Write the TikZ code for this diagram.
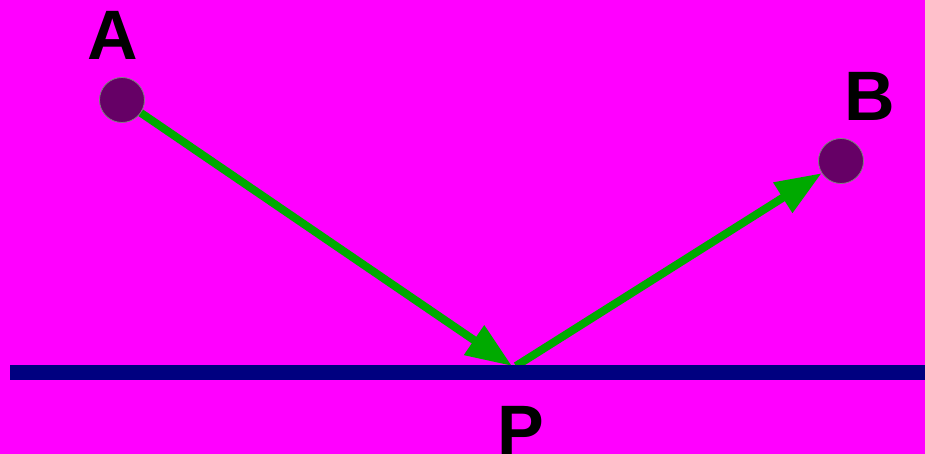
\documentclass[tikz,border=0pt]{standalone}
\usepackage{fontspec}
\setmainfont{Liberation Sans}
\usetikzlibrary{arrows.meta}
\definecolor{bg}{HTML}{FF00FF}
\definecolor{ray}{HTML}{00AA00}
\definecolor{mirror}{HTML}{000080}
\definecolor{dot}{HTML}{660066}
\tikzset{
  pt/.style={circle, fill=dot, draw=gray, line width=0.8pt, minimum size=45pt, inner sep=0pt},
  lbl/.style={font=\fontsize{70}{70}\selectfont\bfseries, text=black, inner sep=0pt, anchor=base},
  rayarrow/.style={draw=ray, line width=8pt, -{Triangle[length=46pt,width=34pt]}}
}
\begin{document}
\begin{tikzpicture}[x=1pt,y=-1pt]
\fill[bg] (0,0) rectangle (925,454);
\useasboundingbox (0,0) rectangle (925,454);
\node[pt] (A) at (122,100) {};
\node[pt] (B) at (841,161) {};
\coordinate (P) at (512,366);
\coordinate (P2) at (516,366);
\coordinate (L) at (10,372.5);
\coordinate (R) at (925,372.5);
\draw[rayarrow] (A) -- (P);
\draw[rayarrow] (P2) -- (B);
\draw[mirror, line width=15pt] (L) -- (R);
\node[lbl] (la) at (113,60) {A};
\node[lbl] (lb) at (870,121) {B};
\node[lbl] (lp) at (521,454) {P};
\end{tikzpicture}
\end{document}
